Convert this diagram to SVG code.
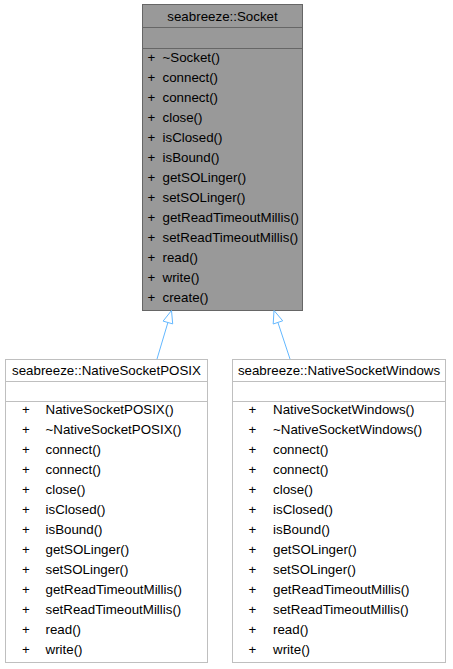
<svg xmlns="http://www.w3.org/2000/svg" width="453" height="669" viewBox="0 0 453 669">
<style>
text{font-family:"Liberation Sans",Arial,Helvetica,sans-serif;font-size:13.33px;fill:#000}
.c{text-anchor:middle}
.focus{fill:#999999;stroke:#666666;stroke-width:1}
.fl{stroke:#666666;stroke-width:1}
.node{fill:#ffffff;stroke:#bfbfbf;stroke-width:1}
.nl{stroke:#bfbfbf;stroke-width:1}
.edge{stroke:#63b8ff;stroke-width:1;fill:none}
.head{fill:#ffffff;stroke:#63b8ff;stroke-width:1}
</style>
<rect width="453" height="669" fill="#ffffff"/>
<g id="Socket">
<rect class="focus" x="142.5" y="4.5" width="160" height="306"/>
<line class="fl" x1="142.5" y1="27.5" x2="302.5" y2="27.5"/>
<line class="fl" x1="142.5" y1="48.5" x2="302.5" y2="48.5"/>
<text class="c" x="222.5" y="20.5">seabreeze::Socket</text>
<g>
<text x="147.5" y="62">+</text><text x="162.5" y="62">~Socket()</text>
<text x="147.5" y="82">+</text><text x="162.5" y="82">connect()</text>
<text x="147.5" y="102">+</text><text x="162.5" y="102">connect()</text>
<text x="147.5" y="122">+</text><text x="162.5" y="122">close()</text>
<text x="147.5" y="142">+</text><text x="162.5" y="142">isClosed()</text>
<text x="147.5" y="162">+</text><text x="162.5" y="162">isBound()</text>
<text x="147.5" y="182">+</text><text x="162.5" y="182">getSOLinger()</text>
<text x="147.5" y="202">+</text><text x="162.5" y="202">setSOLinger()</text>
<text x="147.5" y="222">+</text><text x="162.5" y="222">getReadTimeoutMillis()</text>
<text x="147.5" y="242">+</text><text x="162.5" y="242">setReadTimeoutMillis()</text>
<text x="147.5" y="262">+</text><text x="162.5" y="262">read()</text>
<text x="147.5" y="282">+</text><text x="162.5" y="282">write()</text>
<text x="147.5" y="302">+</text><text x="162.5" y="302">create()</text>
</g>
</g>
<g id="NativeSocketPOSIX">
<rect class="node" x="5.5" y="359.5" width="202" height="303"/>
<line class="nl" x1="5.5" y1="381.5" x2="207.5" y2="381.5"/>
<line class="nl" x1="5.5" y1="401.5" x2="207.5" y2="401.5"/>
<text class="c" x="106.5" y="375">seabreeze::NativeSocketPOSIX</text>
<g>
<text x="22" y="414">+</text><text x="45.5" y="414">NativeSocketPOSIX()</text>
<text x="22" y="434">+</text><text x="45.5" y="434">~NativeSocketPOSIX()</text>
<text x="22" y="454">+</text><text x="45.5" y="454">connect()</text>
<text x="22" y="474">+</text><text x="45.5" y="474">connect()</text>
<text x="22" y="494">+</text><text x="45.5" y="494">close()</text>
<text x="22" y="514">+</text><text x="45.5" y="514">isClosed()</text>
<text x="22" y="534">+</text><text x="45.5" y="534">isBound()</text>
<text x="22" y="554">+</text><text x="45.5" y="554">getSOLinger()</text>
<text x="22" y="574">+</text><text x="45.5" y="574">setSOLinger()</text>
<text x="22" y="594">+</text><text x="45.5" y="594">getReadTimeoutMillis()</text>
<text x="22" y="614">+</text><text x="45.5" y="614">setReadTimeoutMillis()</text>
<text x="22" y="634">+</text><text x="45.5" y="634">read()</text>
<text x="22" y="654">+</text><text x="45.5" y="654">write()</text>
</g>
</g>
<g id="NativeSocketWindows">
<rect class="node" x="232.5" y="359.5" width="213" height="303"/>
<line class="nl" x1="232.5" y1="381.5" x2="445.5" y2="381.5"/>
<line class="nl" x1="232.5" y1="401.5" x2="445.5" y2="401.5"/>
<text class="c" x="339" y="375">seabreeze::NativeSocketWindows</text>
<g>
<text x="248.5" y="414">+</text><text x="273" y="414">NativeSocketWindows()</text>
<text x="248.5" y="434">+</text><text x="273" y="434">~NativeSocketWindows()</text>
<text x="248.5" y="454">+</text><text x="273" y="454">connect()</text>
<text x="248.5" y="474">+</text><text x="273" y="474">connect()</text>
<text x="248.5" y="494">+</text><text x="273" y="494">close()</text>
<text x="248.5" y="514">+</text><text x="273" y="514">isClosed()</text>
<text x="248.5" y="534">+</text><text x="273" y="534">isBound()</text>
<text x="248.5" y="554">+</text><text x="273" y="554">getSOLinger()</text>
<text x="248.5" y="574">+</text><text x="273" y="574">setSOLinger()</text>
<text x="248.5" y="594">+</text><text x="273" y="594">getReadTimeoutMillis()</text>
<text x="248.5" y="614">+</text><text x="273" y="614">setReadTimeoutMillis()</text>
<text x="248.5" y="634">+</text><text x="273" y="634">read()</text>
<text x="248.5" y="654">+</text><text x="273" y="654">write()</text>
</g>
</g>
<g id="connectors">
<g id="edge_POSIX_Socket">
<path class="edge" d="M157,359 L167.9,322.5"/>
<polygon class="head" points="171.5,310.5 172.7,323.9 163.1,321.1"/>
</g>
<g id="edge_Windows_Socket">
<path class="edge" d="M290,359 L277.9,322.4"/>
<polygon class="head" points="274,310.5 282.7,320.8 273.2,324"/>
</g>
</g>
</svg>
